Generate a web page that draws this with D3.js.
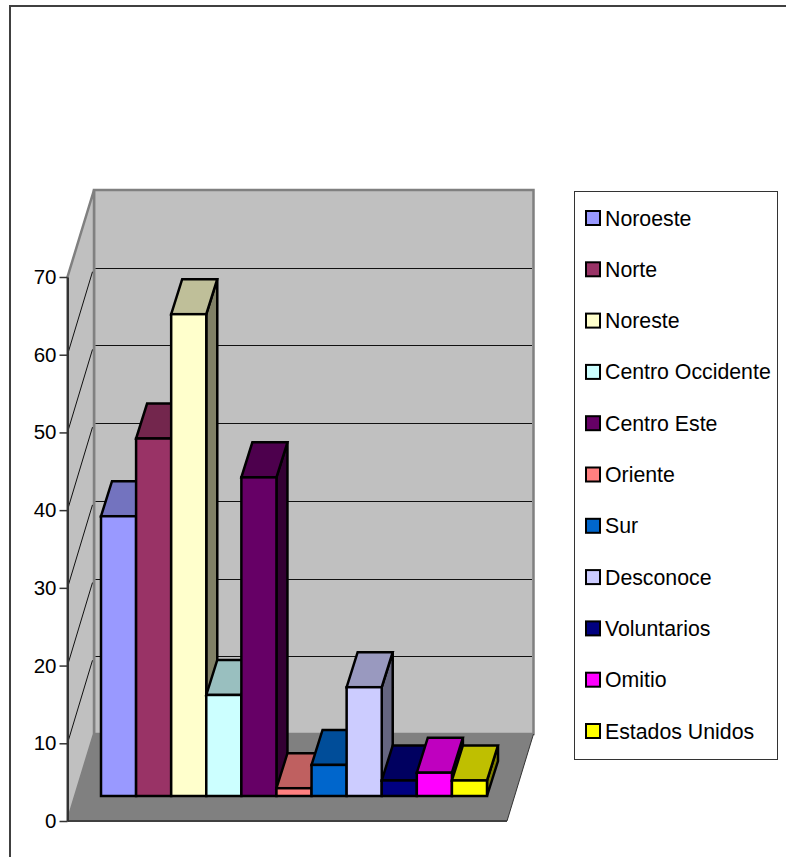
<!DOCTYPE html>
<html><head><meta charset="utf-8">
<script src="https://cdnjs.cloudflare.com/ajax/libs/d3/7.8.5/d3.min.js"></script>
<style>html,body{margin:0;padding:0;background:#fff;overflow:hidden}svg{display:block}text{font-family:"Liberation Sans",Arial,sans-serif;fill:#000}</style>
</head><body><svg id="c" width="786" height="857"></svg>
<script>
const categories=["Noroeste","Norte","Noreste","Centro Occidente","Centro Este","Oriente","Sur","Desconoce","Voluntarios","Omitio","Estados Unidos"];
const values=[36,46,62,13,41,1,4,14,2,3,2];
const colors=["#9999FF","#993366","#FFFFCC","#CCFFFF","#660066","#FF8080","#0066CC","#CCCCFF","#000080","#FF00FF","#FFFF00"];
const tickValues=[0,10,20,30,40,50,60,70];
const gridValues=[10,20,30,40,50,60];

const svg=d3.select("#c");
const y=d3.scaleLinear().domain([0,70]).range([821,277]);
const floorX=d3.scaleLinear().domain([0,1]).range([67.5,507]);
const DX=26.5,DY=-87;
const x=d3.scaleBand().domain(categories).range([101,487]).padding(0);
const BASE=25,BDX=11,BDY=-35;
const shade=(c,k)=>{const r=d3.rgb(c);return d3.rgb(r.r*k,r.g*k,r.b*k).formatHex();};
const poly=pts=>pts.map(p=>p.join(",")).join(" ");

// frame
svg.append("line").attr("x1",9).attr("x2",786).attr("y1",6).attr("y2",6).attr("stroke","#000").attr("stroke-width",1.5);
svg.append("line").attr("x1",10).attr("x2",10).attr("y1",6).attr("y2",857).attr("stroke","#404040").attr("stroke-width",2);

const x0=floorX(0),x1=floorX(1),y0=y(0),yT=y(70);
// floor
svg.append("polygon").attr("points",poly([[x0,y0],[x1,y0],[x1+DX,y0+DY],[x0+DX,y0+DY]])).attr("fill","#808080");
// walls
svg.append("polygon").attr("points",poly([[x0+DX,y0+DY],[x1+DX,y0+DY],[x1+DX,yT+DY],[x0+DX,yT+DY]]))
  .attr("fill","#C0C0C0").attr("stroke","#808080").attr("stroke-width",2.5);
svg.append("polygon").attr("points",poly([[x0,y0],[x0+DX,y0+DY],[x0+DX,yT+DY],[x0,yT]]))
  .attr("fill","#C0C0C0").attr("stroke","#808080").attr("stroke-width",2.5);
svg.append("line").attr("x1",x1).attr("y1",y0).attr("x2",x1+DX).attr("y2",y0+DY).attr("stroke","#333").attr("stroke-width",1);
svg.append("line").attr("x1",x0).attr("y1",y0).attr("x2",x1).attr("y2",y0).attr("stroke","#404040").attr("stroke-width",2);
// gridlines
svg.append("g").selectAll("line").data(gridValues).join("line")
  .attr("x1",x0+DX+1.5).attr("x2",x1+DX-1.5).attr("y1",d=>Math.round(y(d)+DY)+.5).attr("y2",d=>Math.round(y(d)+DY)+.5)
  .attr("stroke","#111").attr("stroke-width",1);
svg.append("g").selectAll("line").data(gridValues).join("line")
  .attr("x1",x0).attr("x2",x0+DX-1.5).attr("y1",d=>y(d)).attr("y2",d=>y(d)+DY+4)
  .attr("stroke","#111").attr("stroke-width",1);
// bars
const g=svg.append("g").attr("stroke","#000").attr("stroke-width",2.5).attr("stroke-linejoin","miter");
categories.forEach((c,i)=>{
  const l=x(c),r=l+x.bandwidth(),b=y0-BASE,t=y(values[i])-BASE;
  g.append("polygon").attr("points",poly([[r,b],[r+BDX,b+BDY],[r+BDX,t+BDY],[r,t]])).attr("fill",shade(colors[i],.5));
  g.append("polygon").attr("points",poly([[l,t],[r,t],[r+BDX,t+BDY],[l+BDX,t+BDY]])).attr("fill",shade(colors[i],.75));
  g.append("rect").attr("x",l).attr("y",t).attr("width",x.bandwidth()).attr("height",b-t).attr("fill",colors[i]);
});
// axis
const ax=svg.append("g").attr("transform",`translate(${x0},0)`).call(d3.axisLeft(y).tickValues(tickValues).tickSize(8).tickPadding(3).tickSizeOuter(0));
ax.select(".domain").attr("stroke","#333").attr("stroke-width",2);
ax.selectAll(".tick line").attr("stroke","#333").attr("stroke-width",1.5);
ax.selectAll("text").attr("font-size",20.5).style("font-family",'"Liberation Sans",Arial,sans-serif').attr("fill","#000");
// legend
svg.append("rect").attr("x",574.5).attr("y",191.5).attr("width",203).attr("height",568).attr("fill","#fff").attr("stroke","#333").attr("stroke-width",1);
const ly=d3.scalePoint().domain(categories).range([218,731]);
const lg=svg.append("g").selectAll("g").data(categories).join("g").attr("transform",d=>`translate(0,${ly(d)})`);
lg.append("rect").attr("x",586).attr("y",-7).attr("width",14).attr("height",14).attr("fill",(d,i)=>colors[i]).attr("stroke","#000").attr("stroke-width",2);
lg.append("text").attr("x",605).attr("y",7.5).attr("font-size",21.3).text(d=>d);
</script></body></html>
